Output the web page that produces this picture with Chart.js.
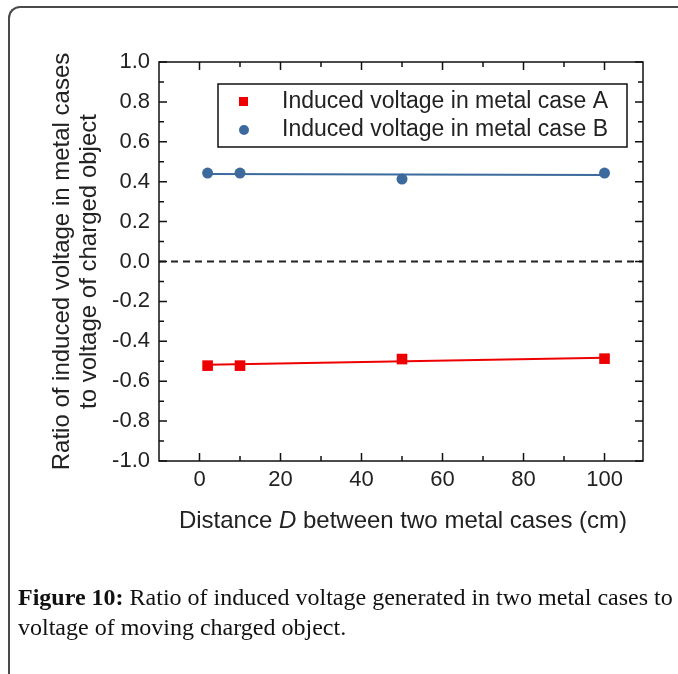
<!DOCTYPE html>
<html>
<head>
<meta charset="utf-8">
<script src="https://cdn.jsdelivr.net/npm/chart.js@4.4.0/dist/chart.umd.min.js"></script>
<style>
body { margin: 0; background: #fff; }
#wrap { position: relative; width: 678px; height: 674px; overflow: hidden; }
#frame { position: absolute; left: 8px; top: 6px; width: 720px; height: 720px;
  border-top: 2px solid #4a4a4a; border-left: 2px solid #4a4a4a; border-top-left-radius: 12px; }
#chart { position: absolute; left: 0; top: 0; }
#caption { position: absolute; left: 18px; top: 582px; font-family: "Liberation Serif", serif;
  font-size: 24px; line-height: 30px; color: #111; white-space: nowrap; }
</style>
</head>
<body>
<div id="wrap">
  <div id="frame"></div>
  <canvas id="chart" width="678" height="674"></canvas>
  <div id="caption"><b>Figure 10:</b> Ratio of induced voltage generated in two metal cases to<br>voltage of moving charged object.</div>
</div>
<script>
// 数据
const distances = [2, 10, 50, 100];
const ratioA = [-0.522, -0.522, -0.489, -0.487];
const ratioB = [0.443, 0.443, 0.413, 0.443];
const fitX = [2, 100];
const fitA = [-0.517, -0.482];
const fitB = [0.438, 0.434];
const legendLabels = ['Induced voltage in metal case A', 'Induced voltage in metal case B'];
const xTicks = [0, 20, 40, 60, 80, 100];
const xMinor = [10, 30, 50, 70, 90];
const yTicks = [-1.0, -0.8, -0.6, -0.4, -0.2, 0.0, 0.2, 0.4, 0.6, 0.8, 1.0];
const yMinor = [-0.9, -0.7, -0.5, -0.3, -0.1, 0.1, 0.3, 0.5, 0.7, 0.9];
const yTitle = ['Ratio of induced voltage in metal cases', 'to voltage of charged object'];

const RED = '#ee0000';
const BLUE = '#3c6a9c';
const FONT = '"Liberation Sans", Arial, sans-serif';

const toPts = (xs, ys) => xs.map((x, i) => ({ x: x, y: ys[i] }));

// 坐标框、刻度、零线、图例和轴标题
const framePlugin = {
    id: 'framePlugin',
    beforeDatasetsDraw(chart) {
        const ctx = chart.ctx;
        const a = chart.chartArea;
        const y0 = chart.scales.y.getPixelForValue(0);
        ctx.save();
        ctx.strokeStyle = '#222';
        ctx.lineWidth = 2;
        ctx.setLineDash([7, 5]);
        ctx.beginPath();
        ctx.moveTo(a.left, y0);
        ctx.lineTo(a.right, y0);
        ctx.stroke();
        ctx.restore();
    },
    afterDraw(chart) {
        const ctx = chart.ctx;
        const a = chart.chartArea;
        const xs = chart.scales.x, ys = chart.scales.y;
        ctx.save();
        ctx.strokeStyle = '#111';
        ctx.lineWidth = 1.5;
        ctx.strokeRect(a.left, a.top, a.right - a.left, a.bottom - a.top);

        ctx.beginPath();
        const tickX = (v, len) => {
            const p = xs.getPixelForValue(v);
            ctx.moveTo(p, a.bottom); ctx.lineTo(p, a.bottom - len);
            ctx.moveTo(p, a.top); ctx.lineTo(p, a.top + len);
        };
        const tickY = (v, len) => {
            const p = ys.getPixelForValue(v);
            ctx.moveTo(a.left, p); ctx.lineTo(a.left + len, p);
            ctx.moveTo(a.right, p); ctx.lineTo(a.right - len, p);
        };
        xTicks.forEach(v => tickX(v, 8));
        xMinor.forEach(v => tickX(v, 5));
        yTicks.forEach(v => tickY(v, 8));
        yMinor.forEach(v => tickY(v, 5));
        ctx.stroke();

        // 图例
        const lx = a.left + 59, ly = a.top + 22, lw = 409, lh = 63;
        ctx.lineWidth = 1.5;
        ctx.strokeRect(lx, ly, lw, lh);
        ctx.fillStyle = RED;
        ctx.fillRect(lx + 21, ly + 13, 9, 9);
        ctx.fillStyle = BLUE;
        ctx.beginPath();
        ctx.arc(lx + 26, ly + 46, 5, 0, Math.PI * 2);
        ctx.fill();
        ctx.fillStyle = '#222';
        ctx.font = '23px ' + FONT;
        ctx.textBaseline = 'middle';
        ctx.textAlign = 'left';
        ctx.fillText(legendLabels[0], lx + 64, ly + 18);
        ctx.fillText(legendLabels[1], lx + 64, ly + 46);

        // y 轴标题
        ctx.save();
        ctx.font = '24px ' + FONT;
        ctx.translate(62, (a.top + a.bottom) / 2);
        ctx.rotate(-Math.PI / 2);
        ctx.textAlign = 'center';
        ctx.fillText(yTitle[0], 0, 0);
        ctx.fillText(yTitle[1], 0, 27);
        ctx.restore();

        // x 轴标题，D 为斜体
        const parts = [['Distance ', ''], ['D', 'italic '], [' between two metal cases (cm)', '']];
        let total = 0;
        parts.forEach(p => { ctx.font = p[1] + '24px ' + FONT; total += ctx.measureText(p[0]).width; });
        let x = 403 - total / 2;
        parts.forEach(p => {
            ctx.font = p[1] + '24px ' + FONT;
            ctx.fillText(p[0], x, 521);
            x += ctx.measureText(p[0]).width;
        });
        ctx.restore();
    }
};

new Chart(document.getElementById('chart'), {
    type: 'scatter',
    data: {
        datasets: [
            { label: 'fitA', type: 'line', data: toPts(fitX, fitA), borderColor: RED, borderWidth: 2, pointRadius: 0 },
            { label: 'fitB', type: 'line', data: toPts(fitX, fitB), borderColor: BLUE, borderWidth: 2, pointRadius: 0 },
            { label: legendLabels[0], data: toPts(distances, ratioA), pointStyle: 'rect', pointRadius: 7.5,
              backgroundColor: RED, borderColor: RED, borderWidth: 0 },
            { label: legendLabels[1], data: toPts(distances, ratioB), pointStyle: 'circle', pointRadius: 5.5,
              backgroundColor: BLUE, borderColor: BLUE, borderWidth: 0 }
        ]
    },
    options: {
        responsive: false,
        animation: false,
        layout: { padding: { left: 0, top: 62, right: 35, bottom: 0 } },
        plugins: { legend: { display: false }, tooltip: { enabled: false } },
        scales: {
            x: {
                type: 'linear', min: -10, max: 109.5,
                afterBuildTicks: s => { s.ticks = xTicks.map(v => ({ value: v })); },
                afterFit: s => { s.height = 213; },
                grid: { display: false, drawTicks: false },
                border: { display: false },
                ticks: { padding: 6, color: '#222', font: { family: FONT, size: 22 } }
            },
            y: {
                type: 'linear', min: -1, max: 1,
                afterBuildTicks: s => { s.ticks = yTicks.map(v => ({ value: v })); },
                afterFit: s => { s.width = 159; },
                grid: { display: false, drawTicks: false },
                border: { display: false },
                ticks: { padding: 9, color: '#222', font: { family: FONT, size: 22 },
                         callback: v => v.toFixed(1) }
            }
        }
    },
    plugins: [framePlugin]
});
</script>
</body>
</html>
